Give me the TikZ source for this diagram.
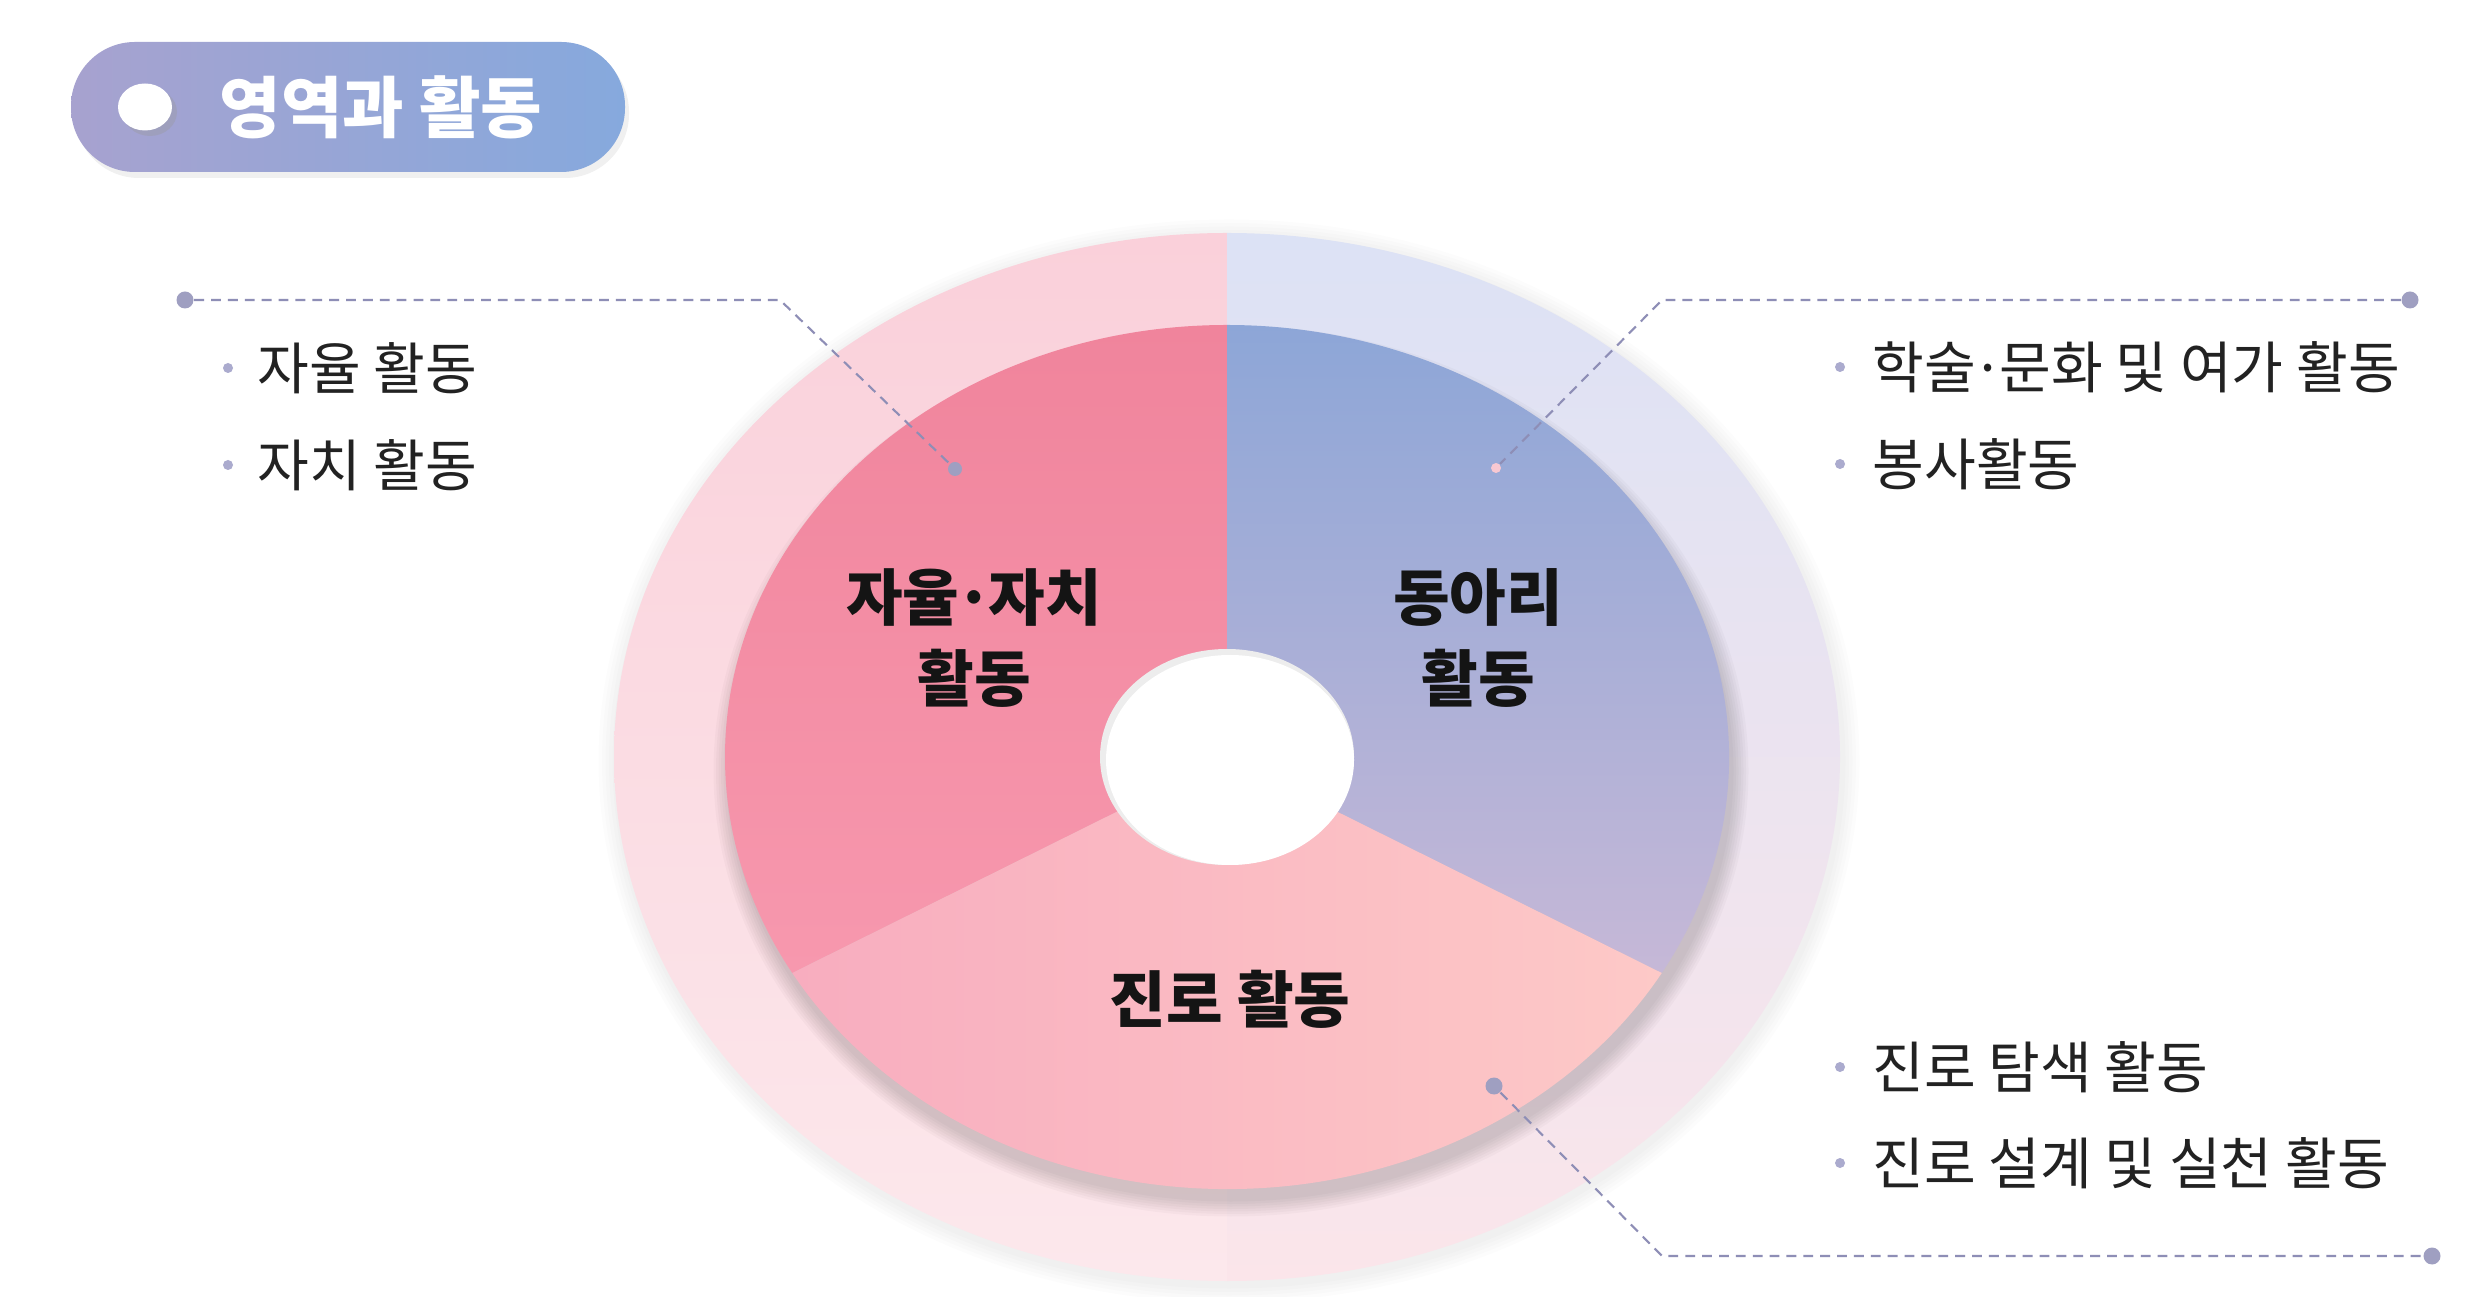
\documentclass[tikz,border=0pt]{standalone}
\usepackage{fontspec}
\setmainfont{Noto Sans CJK KR}
\usetikzlibrary{calc}

\definecolor{pillL}{HTML}{A7A2CF}
\definecolor{pillR}{HTML}{86A9DD}
\definecolor{ringPinkT}{HTML}{FAD0DA}
\definecolor{ringPinkB}{HTML}{FCE8EC}
\definecolor{ringBlueT}{HTML}{DCE2F5}
\definecolor{ringBlueB}{HTML}{FBE5EA}
\definecolor{autoT}{HTML}{F0849C}
\definecolor{autoB}{HTML}{F798AE}
\definecolor{clubT}{HTML}{8DA6D7}
\definecolor{clubB}{HTML}{C6B8D7}
\definecolor{careerL}{HTML}{F8ADBF}
\definecolor{careerR}{HTML}{FDC9C7}
\definecolor{leadline}{HTML}{8E8EB6}
\definecolor{bulletdot}{HTML}{ABABCE}
\definecolor{listtext}{HTML}{222222}

\def\middot{\kern-0.07em·\kern-0.07em}

\tikzset{
  leader/.style={leadline, line width=0.6pt, dash pattern=on 2.8pt off 2pt},
  enddot/.style={circle, fill=leadline!85, inner sep=0pt, minimum size=0.17cm},
  listdot/.style={circle, fill=bulletdot, inner sep=0pt, minimum size=0.1cm},
  listitem/.style={anchor=west, text=listtext, inner sep=0pt, font=\fontsize{16}{18}\selectfont},
  seclabel/.style={align=center, text=black!92, font=\bfseries\fontsize{17.5}{23.3}\selectfont},
}

\begin{document}
\begin{tikzpicture}
			%%%%% START %%%%%
			\useasboundingbox (0, 0) rectangle (24.66, 12.96);
			\fill[white] (0, 0) rectangle (24.66, 12.96);
			
			% title pill
			\fill[black, opacity=0.06, rounded corners=0.64cm] (0.75, 11.18) rectangle (6.29, 12.48);
			\shade[left color=pillL, right color=pillR, rounded corners=0.64cm] (0.71, 11.24) rectangle (6.25, 12.54);
			\fill[black!40, opacity=0.35] (1.50, 11.84) ellipse [x radius=0.27, y radius=0.24];
			\fill[white] (1.45, 11.89) ellipse [x radius=0.27, y radius=0.235];
			\node[text=white, font=\bfseries\fontsize{19}{21}\selectfont] (title) at (3.81, 11.89) {영역과 활동};
			
			\coordinate (C) at (12.27, 5.39);
			
			% outer ring
			\foreach \k in {1,...,5}
				\fill[black, opacity=0.012] ($(C)+(0.02, -0.04)$) ellipse [x radius=6.13+0.035*\k, y radius=5.24+0.035*\k];
			\shade[top color=ringPinkT, bottom color=ringPinkB] (C) -- ++(90:6.13 and 5.24) arc[start angle=90, end angle=270, x radius=6.13, y radius=5.24] -- cycle;
			\shade[top color=ringBlueT, bottom color=ringBlueB] (C) -- ++(-90:6.13 and 5.24) arc[start angle=-90, end angle=90, x radius=6.13, y radius=5.24] -- cycle;
			
			% pie shadow
			\foreach \k in {1,...,7}
				\fill[black, opacity=0.025] ($(C)+(0.04, -0.14)$) ellipse [x radius=5.0+0.025*\k, y radius=4.28+0.025*\k];
			
			% sectors
			\shade[top color=autoT, bottom color=autoB] (C) -- ++(90:5.02 and 4.32) arc[start angle=90, end angle=210, x radius=5.02, y radius=4.32] -- cycle;
			\shade[top color=clubT, bottom color=clubB] (C) -- ++(-30:5.02 and 4.32) arc[start angle=-30, end angle=90, x radius=5.02, y radius=4.32] -- cycle;
			\shade[left color=careerL, right color=careerR] (C) -- ++(210:5.02 and 4.32) arc[start angle=210, end angle=330, x radius=5.02, y radius=4.32] -- cycle;
			
			% hole
			\fill[black!7] (C) ellipse [x radius=1.27, y radius=1.08];
			\fill[white] ($(C)+(0.03, -0.03)$) ellipse [x radius=1.24, y radius=1.05];
			
			\node[seclabel] (autoLabel) at (9.74, 6.58) {자율\middot 자치\\활동};
			\node[seclabel] (clubLabel) at (14.78, 6.58) {동아리\\활동};
			\node[seclabel] (careerLabel) at (12.30, 2.97) {진로 활동};
			
			% leaders
			\node[enddot] (lStart) at (1.85, 9.96) {};
			\coordinate (lBend) at (7.80, 9.96);
			\node[enddot, minimum size=0.14cm] (lEnd) at (9.55, 8.27) {};
			\draw[leader] (lStart) -- (lBend) -- (lEnd);
			
			\node[enddot] (rtStart) at (24.10, 9.96) {};
			\coordinate (rtBend) at (16.62, 9.96);
			\node[enddot, fill=autoT!45, minimum size=0.1cm] (rtEnd) at (14.96, 8.28) {};
			\draw[leader] (rtStart) -- (rtBend) -- (rtEnd);
			
			\node[enddot] (rbStart) at (14.94, 2.10) {};
			\coordinate (rbBend) at (16.62, 0.40);
			\node[enddot] (rbEnd) at (24.32, 0.40) {};
			\draw[leader] (rbStart) -- (rbBend) -- (rbEnd);
			
			% lists
			\node[listdot] (la) at (2.28, 9.28) {};
			\node[listitem] (laText) at (2.57, 9.28) {자율 활동};
			\node[listdot] (lb) at (2.28, 8.31) {};
			\node[listitem] (lbText) at (2.57, 8.31) {자치 활동};
			
			\node[listdot] (ra) at (18.40, 9.29) {};
			\node[listitem] (raText) at (18.72, 9.29) {학술\middot 문화 및 여가 활동};
			\node[listdot] (rb) at (18.40, 8.32) {};
			\node[listitem] (rbText) at (18.72, 8.32) {봉사활동};
			
			\node[listdot] (rc) at (18.40, 2.29) {};
			\node[listitem] (rcText) at (18.72, 2.29) {진로 탐색 활동};
			\node[listdot] (rd) at (18.40, 1.33) {};
			\node[listitem] (rdText) at (18.72, 1.33) {진로 설계 및 실천 활동};
			%%%%% END %%%%%
\end{tikzpicture}
\end{document}
